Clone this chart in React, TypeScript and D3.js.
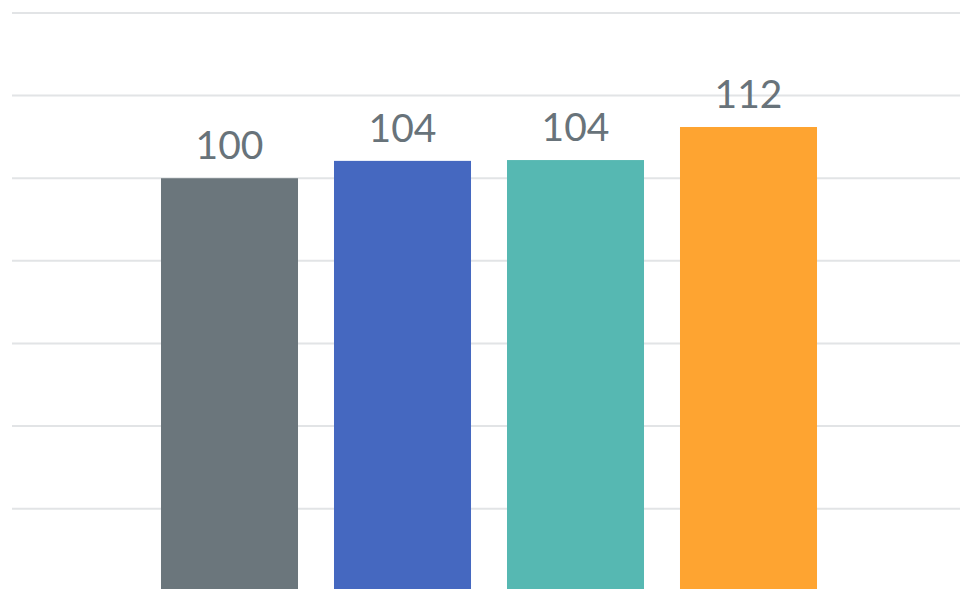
import React from "react";
import * as d3 from "d3";

const categories = ["Series 1", "Series 2", "Series 3", "Series 4"];
const values = [100, 104.2, 104.4, 112.4];
const labels = ["100", "104", "104", "112"];
const colors = ["#6b767c", "#4568c0", "#56b8b2", "#fea431"];
const gridTicks = [0, 20, 40, 60, 80, 100, 120, 140];

const W = 960;
const H = 589;

export default function App() {
  const x = d3
    .scaleBand<string>()
    .domain(categories)
    .range([143, 835])
    .paddingInner(0.208)
    .paddingOuter(0.104);
  const y = d3.scaleLinear().domain([0, 140]).range([591.3, 13]);

  return (
    <svg
      width={W}
      height={H}
      style={{ position: "absolute", left: 0, top: 0, background: "#fff" }}
    >
      <g>
        {gridTicks.map((t) => (
          <line
            key={t}
            x1={12}
            x2={W}
            y1={y(t)}
            y2={y(t)}
            stroke="#e2e4e6"
            strokeWidth={2}
          />
        ))}
      </g>
      <g>
        {categories.map((c, i) => (
          <rect
            key={c}
            x={x(c)}
            y={y(values[i])}
            width={x.bandwidth()}
            height={y(0) - y(values[i])}
            fill={colors[i]}
          />
        ))}
      </g>
      <g>
        {categories.map((c, i) => (
          <text
            key={c}
            x={(x(c) as number) + x.bandwidth() / 2}
            y={y(values[i]) - 19}
            textAnchor="middle"
            fontFamily="Lato, sans-serif"
            fontSize={39}
            fill="#68737a"
          >
            {labels[i]}
          </text>
        ))}
      </g>
    </svg>
  );
}
